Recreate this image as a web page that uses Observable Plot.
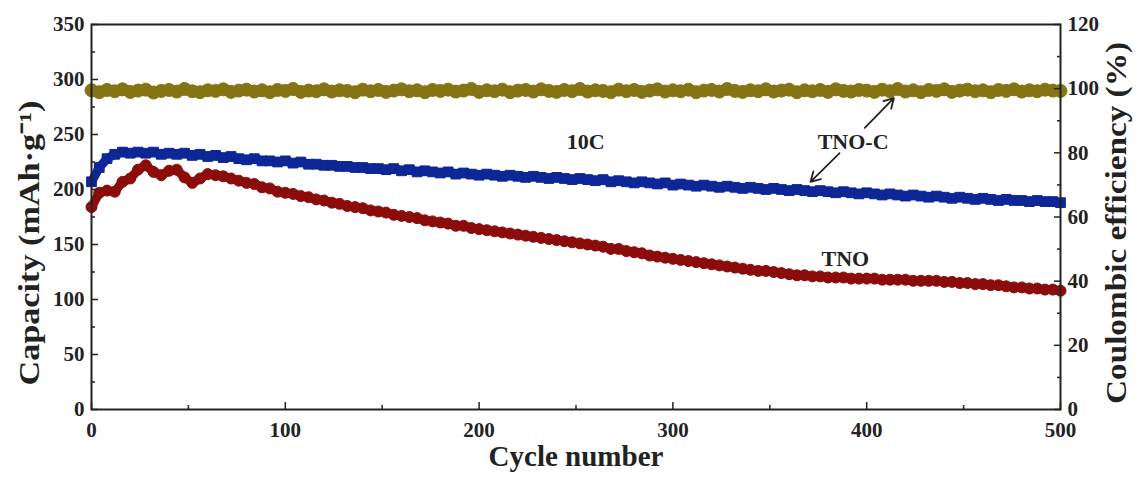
<!DOCTYPE html>
<html><head><meta charset="utf-8">
<script src="https://cdn.jsdelivr.net/npm/d3@7"></script>
<script src="https://cdn.jsdelivr.net/npm/@observablehq/plot@0.6"></script>
<style>
html,body{margin:0;padding:0;background:#fff;}
#chart svg{display:block;}
</style></head><body><div id="chart"></div>
<script>
// cycle numbers sampled every 4 cycles
const cycles = d3.range(0, 501, 4);

// TNO-C capacity (mAh/g)
const tnoC = [
  207,220,228,232,234,233,234,233,234,232,
  233,232,233,231,232,230,231,229,230,228,
  227,228,226,226,225,226,224,225,223,223,
  222,222,221,221,220,220,219,219,218,219,
  217,218,216,217,216,215,216,214,215,214,
  213,214,213,212,213,212,211,212,211,210,
  211,210,209,210,209,208,209,207,208,207,
  206,207,206,205,206,204,205,204,203,204,
  203,202,203,202,201,202,201,200,201,200,
  199,200,199,198,199,198,197,198,197,196,
  197,196,195,196,195,194,195,194,193,194,
  193,192,193,192,191,192,191,190,191,190,
  190,189,190,189,189,188
];

// TNO capacity (mAh/g)
const tno = [
  184,197,199,198,207,210,218,222,216,213,
  217,218,211,206,210,214,213,212,210,208,
  206,205,202,201,198,197,196,194,193,191,
  190,188,187,185,184,183,181,180,179,177,
  176,175,174,172,171,170,169,167,167,165,
  164,163,162,161,160,159,158,157,156,155,
  154,153,152,151,150,149,148,146,146,144,
  143,142,140,139,138,137,136,135,134,133,
  132,131,130,129,128,127,126,126,125,124,
  123,122,122,121,121,120,120,120,119,119,
  119,119,118,118,118,118,117,117,117,117,
  116,116,115,115,114,114,113,113,112,111,
  111,110,110,109,109,108
];

// Coulombic efficiency (%)
const ce = [
  99.5,98.9,99.6,99.2,99.8,99.0,99.4,99.7,98.8,99.3,
  99.6,99.1,99.9,99.2,98.9,99.5,99.3,99.8,99.0,99.4,
  99.7,99.1,99.5,98.9,99.6,99.3,99.9,99.0,99.4,99.2,
  99.8,99.1,99.5,99.3,98.9,99.7,99.2,99.6,99.0,99.4,
  99.8,99.2,99.5,98.9,99.6,99.3,99.7,99.1,99.4,99.9,
  99.0,99.5,99.2,99.7,98.9,99.4,99.6,99.1,99.8,99.3,
  99.0,99.6,99.2,99.9,99.1,99.5,99.3,98.9,99.7,99.2,
  99.6,99.0,99.4,99.8,99.1,99.5,99.2,99.7,98.9,99.4,
  99.6,99.1,99.9,99.3,99.0,99.5,99.2,99.8,99.1,99.4,
  99.7,98.9,99.5,99.2,99.6,99.0,99.8,99.3,99.1,99.6,
  99.4,99.0,99.7,99.2,99.9,99.1,99.5,98.9,99.6,99.3,
  99.8,99.0,99.4,99.7,99.2,99.5,98.9,99.6,99.3,99.8,
  99.1,99.5,99.2,99.7,99.4,99.3
];

const xTicks = [0,100,200,300,400,500];
const xMinor = [50,150,250,350,450];
const capTicks = [0,50,100,150,200,250,300,350];
const capMinor = [25,75,125,175,225,275,325];
const ceTicks = [0,20,40,60,80,100,120];
const ceMinor = [10,30,50,70,90,110];

const annotations = [
  {label: "10C", x: 255, y: 243},
  {label: "TNO-C", x: 393, y: 243},
  {label: "TNO", x: 389, y: 137}
];
const arrows = [
  {x1: 399, y1: 256, x2: 414, y2: 283},
  {x1: 386, y1: 233, x2: 371, y2: 207}
];

const CAP_MAX = 350, CE_MAX = 120;
const ceToCap = v => v * CAP_MAX / CE_MAX;

const blue = "#0d2796", red = "#8c0c0c", gold = "#857512";
const font = "'Liberation Serif', 'Times New Roman', serif";

const rowsC = cycles.map((c, i) => ({c, v: tnoC[i]}));
const rowsT = cycles.map((c, i) => ({c, v: tno[i]}));
const rowsE = cycles.map((c, i) => ({c, v: ceToCap(ce[i])}));

const tickStyle = {stroke: "#222", strokeWidth: 1.5, fontSize: 21, fontWeight: "bold", fontFamily: font, fill: "#222"};
const titleStyle = {fontWeight: "bold", fontFamily: font, fill: "#222"};

const chart = Plot.plot({
  width: 1137,
  height: 477,
  marginLeft: 91,
  marginRight: 77,
  marginTop: 24,
  marginBottom: 68,
  style: {fontFamily: font, fontWeight: "bold", color: "#222", background: "#fff"},
  x: {domain: [0, 500]},
  y: {domain: [0, 350]},
  marks: [
    Plot.line(rowsE, {x: "c", y: "v", stroke: gold, strokeWidth: 11}),
    Plot.dot(rowsE, {x: "c", y: "v", r: 6.5, fill: gold, stroke: gold, strokeWidth: 1}),
    Plot.line(rowsT, {x: "c", y: "v", stroke: red, strokeWidth: 9}),
    Plot.dot(rowsT, {x: "c", y: "v", r: 5.5, symbol: "circle", fill: red, stroke: red, strokeWidth: 1}),
    Plot.line(rowsC, {x: "c", y: "v", stroke: blue, strokeWidth: 9}),
    Plot.dot(rowsC, {x: "c", y: "v", r: 5.5, symbol: "square", fill: blue, stroke: blue, strokeWidth: 1}),
    Plot.frame({stroke: "#222", strokeWidth: 2}),
    Plot.axisX(xTicks, {anchor: "bottom", tickSize: -7, tickPadding: 20, ...tickStyle}),
    Plot.axisX(xMinor, {anchor: "bottom", tickSize: -4, tickFormat: () => "", ...tickStyle}),
    Plot.axisY(capTicks, {anchor: "left", tickSize: -7, tickPadding: 14, ...tickStyle}),
    Plot.axisY(capMinor, {anchor: "left", tickSize: -4, tickFormat: () => "", ...tickStyle}),
    Plot.axisY(ceTicks.map(ceToCap), {anchor: "right", tickSize: -7, tickPadding: 14,
      tickFormat: d => String(Math.round(d * CE_MAX / CAP_MAX)), ...tickStyle}),
    Plot.axisY(ceMinor.map(ceToCap), {anchor: "right", tickSize: -4, tickFormat: () => "", ...tickStyle}),
    Plot.text(annotations, {x: "x", y: "y", text: "label", fontSize: 22, ...titleStyle}),
    Plot.arrow(arrows, {x1: "x1", y1: "y1", x2: "x2", y2: "y2", stroke: "#222", strokeWidth: 1.8, headLength: 9}),
    Plot.text(["Cycle number"], {frameAnchor: "bottom", dy: 56, fontSize: 29, textAnchor: "middle", ...titleStyle}),
    Plot.text(["Capacity (mAh·g⁻¹)"], {frameAnchor: "left", dx: -62, dy: 26, rotate: -90, fontSize: 29, textAnchor: "middle", className: "ytitle-left", ...titleStyle}),
    Plot.text(["Coulombic efficiency (%)"], {frameAnchor: "right", dx: 56, dy: 6, rotate: -90, fontSize: 29, textAnchor: "middle", className: "ytitle-right", ...titleStyle})
  ]
});
document.getElementById("chart").appendChild(chart);
// stretch rotated titles to the lengths they have in the reference
const fit = (cls, len) => {
  chart.querySelectorAll(`.${cls} text`).forEach(t => {
    t.setAttribute("textLength", len);
    t.setAttribute("lengthAdjust", "spacingAndGlyphs");
  });
};
fit("ytitle-left", 285);
fit("ytitle-right", 362);
</script>
</body></html>
